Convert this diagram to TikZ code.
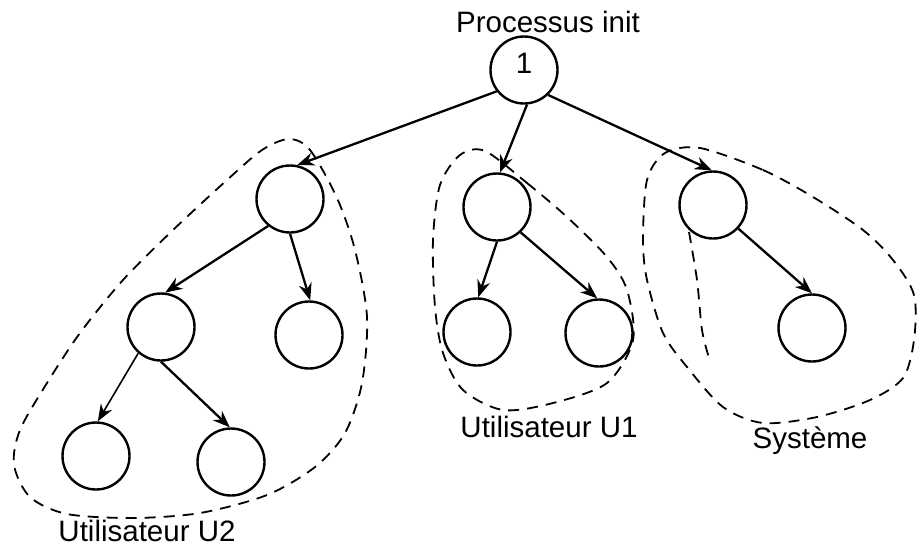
\documentclass[tikz,border=0pt]{standalone}
\usepackage{fontspec}
\setmainfont{Liberation Sans}
\usetikzlibrary{arrows.meta}
\begin{document}
\begin{tikzpicture}[x=1pt,y=-1pt,
  proc/.style={circle,draw,line width=2.4pt,minimum size=67pt,inner sep=0pt},
  link/.style={line width=2.3pt,-{Stealth[length=17pt,width=13pt]}},
  group/.style={line width=1.8pt,dash pattern=on 11pt off 8pt},
  lbl/.style={font=\fontsize{29.5}{34}\selectfont,anchor=base,inner sep=0pt}]
\useasboundingbox (0,0) rectangle (917,547);

% process tree
\node[proc] (root) at (524,70) {};
\node[lbl] (one) at (524,73) {1};
\node[lbl] (title) at (548,32) {Processus init};

\node[proc] (A) at (290,199) {};
\node[proc] (B) at (161,327) {};
\node[proc] (C) at (309,335) {};
\node[proc] (D) at (96,456) {};
\node[proc] (E) at (231,462) {};

\node[proc] (F) at (497,207) {};
\node[proc] (G) at (477,332) {};
\node[proc] (H) at (599,333) {};

\node[proc] (I) at (713,205) {};
\node[proc] (J) at (812,328) {};

% parent -> child links
\draw[link] (root.218) -- (A.78);
\draw[link] (root.275) -- (F.85);
\draw[link] (root.314) -- (I.92);
\draw[link] (A.231) -- (B.83);
\draw[link] (A.270) -- (C.88);
\draw[link,line width=1.6pt] (B.229) -- (D.87);
\draw[link] (B.270) -- (E.92);
\draw[link] (F.270) -- (G.88);
\draw[link] (F.313) -- (H.93);
\draw[link] (I.317) -- (J.90);

% user groups
\draw[group] plot[smooth cycle] coordinates {(289,139) (310,150) (337,198) (355,250) (367,317) (362,383) (345,433) (315,467) (267,495) (200,513) (133,518) (67,514) (30,497) (14,465) (20,430) (47,383) (80,333) (123,280) (173,230) (227,180) (262,150)};
\node[lbl] (u2) at (147,541) {Utilisateur U2};

\draw[group] plot[smooth cycle] coordinates {(485,151) (527,183) (567,217) (607,257) (627,290) (633,340) (607,383) (553,403) (503,410) (463,390) (443,353) (435,307) (433,240) (440,185) (460,155)};
\node[lbl] (u1) at (549,437) {Utilisateur U1};

\draw[group] plot[smooth cycle] coordinates {(700,148) (763,170) (813,197) (863,230) (893,260) (914,295) (914,340) (903,378) (870,400) (817,417) (763,423) (723,407) (687,367) (663,333) (647,280) (643,240) (647,180) (665,153)};
\draw[group] plot[smooth] coordinates {(689,232) (697,280) (702,330) (709,358)};
\node[lbl] (sys) at (810,448) {Système};
\end{tikzpicture}
\end{document}
